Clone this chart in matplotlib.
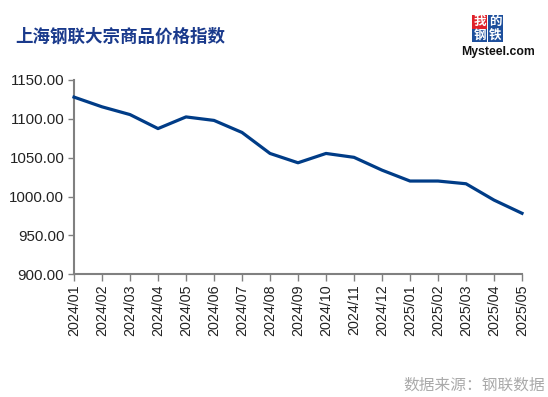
import matplotlib
matplotlib.use("Agg")
import matplotlib.pyplot as plt
from matplotlib.patches import Rectangle

plt.rcParams['font.family'] = ['Liberation Sans', 'Noto Sans CJK SC', 'DejaVu Sans']

months = ["2024/01", "2024/02", "2024/03", "2024/04", "2024/05", "2024/06",
          "2024/07", "2024/08", "2024/09", "2024/10", "2024/11", "2024/12",
          "2025/01", "2025/02", "2025/03", "2025/04", "2025/05"]
values = [1128.0, 1115.5, 1105.5, 1087.5, 1102.5, 1098.0, 1082.5, 1055.5,
          1043.5, 1055.5, 1050.5, 1034.0, 1020.0, 1020.0, 1016.5, 995.5, 978.5]
y_ticks = [900, 950, 1000, 1050, 1100, 1150]

title = "上海钢联大宗商品价格指数"
source = "数据来源：钢联数据"

W, H = 548, 397
fig = plt.figure(figsize=(W / 100, H / 100), dpi=100)
fig.patch.set_facecolor("white")

ax = fig.add_axes([74 / W, 1 - 274.3 / H, 448 / W, 194.3 / H])
x = list(range(len(months)))
ax.plot(x, values, color="#003c87", linewidth=2.3, solid_joinstyle="round",
        clip_on=False, zorder=3)

ax.set_xlim(0, len(months) - 1)
ax.set_ylim(900, 1150)
ax.set_yticks(y_ticks)
ax.set_yticklabels([f"{v:.2f}" for v in y_ticks])
ax.set_xticks(x)
ax.set_xticklabels(months, rotation=90)

for side in ["top", "right"]:
    ax.spines[side].set_visible(False)
for side in ["left", "bottom"]:
    ax.spines[side].set_color("#808080")
    ax.spines[side].set_linewidth(1.5)

ax.tick_params(axis="y", length=4, width=1, color="#808080", pad=3,
               labelsize=10.8, labelcolor="#222222")
ax.tick_params(axis="x", length=5, width=1, color="#808080", pad=2.5,
               labelsize=10.3, labelcolor="#222222")

# Title
fig.text(15 / W, 1 - 37 / H, title, fontsize=12.6, fontweight="bold",
         color="#1a3a8c", ha="left", va="center",
         family=["Noto Sans CJK SC", "DejaVu Sans"])

# Logo
boxes = [("我", 472, 15, "#e0212a"), ("的", 487.5, 15, "#1d4f9c"),
         ("钢", 472, 28.5, "#1d4f9c"), ("铁", 487.5, 28.5, "#1d4f9c")]
for ch, bx, by, col in boxes:
    fig.patches.append(Rectangle((bx / W, 1 - (by + 13.5) / H), 15.5 / W, 13.5 / H,
                                 transform=fig.transFigure, facecolor=col,
                                 edgecolor="none"))
    fig.text((bx + 7.75) / W, 1 - (by + 6.75) / H, ch, fontsize=9,
             color="white", ha="center", va="center", fontweight="bold",
             family=["Noto Sans CJK SC", "DejaVu Sans"])
fig.text(498.5 / W, 1 - 52 / H, "Mysteel.com", fontsize=8.8, fontweight="bold",
         color="#111111", ha="center", va="center")

# Source
fig.text(545 / W, 1 - 385 / H, source, fontsize=11.3, color="#aaaaaa",
         ha="right", va="center", family=["Noto Sans CJK SC", "DejaVu Sans"])

fig.savefig("out.png", dpi=100, facecolor="white")
